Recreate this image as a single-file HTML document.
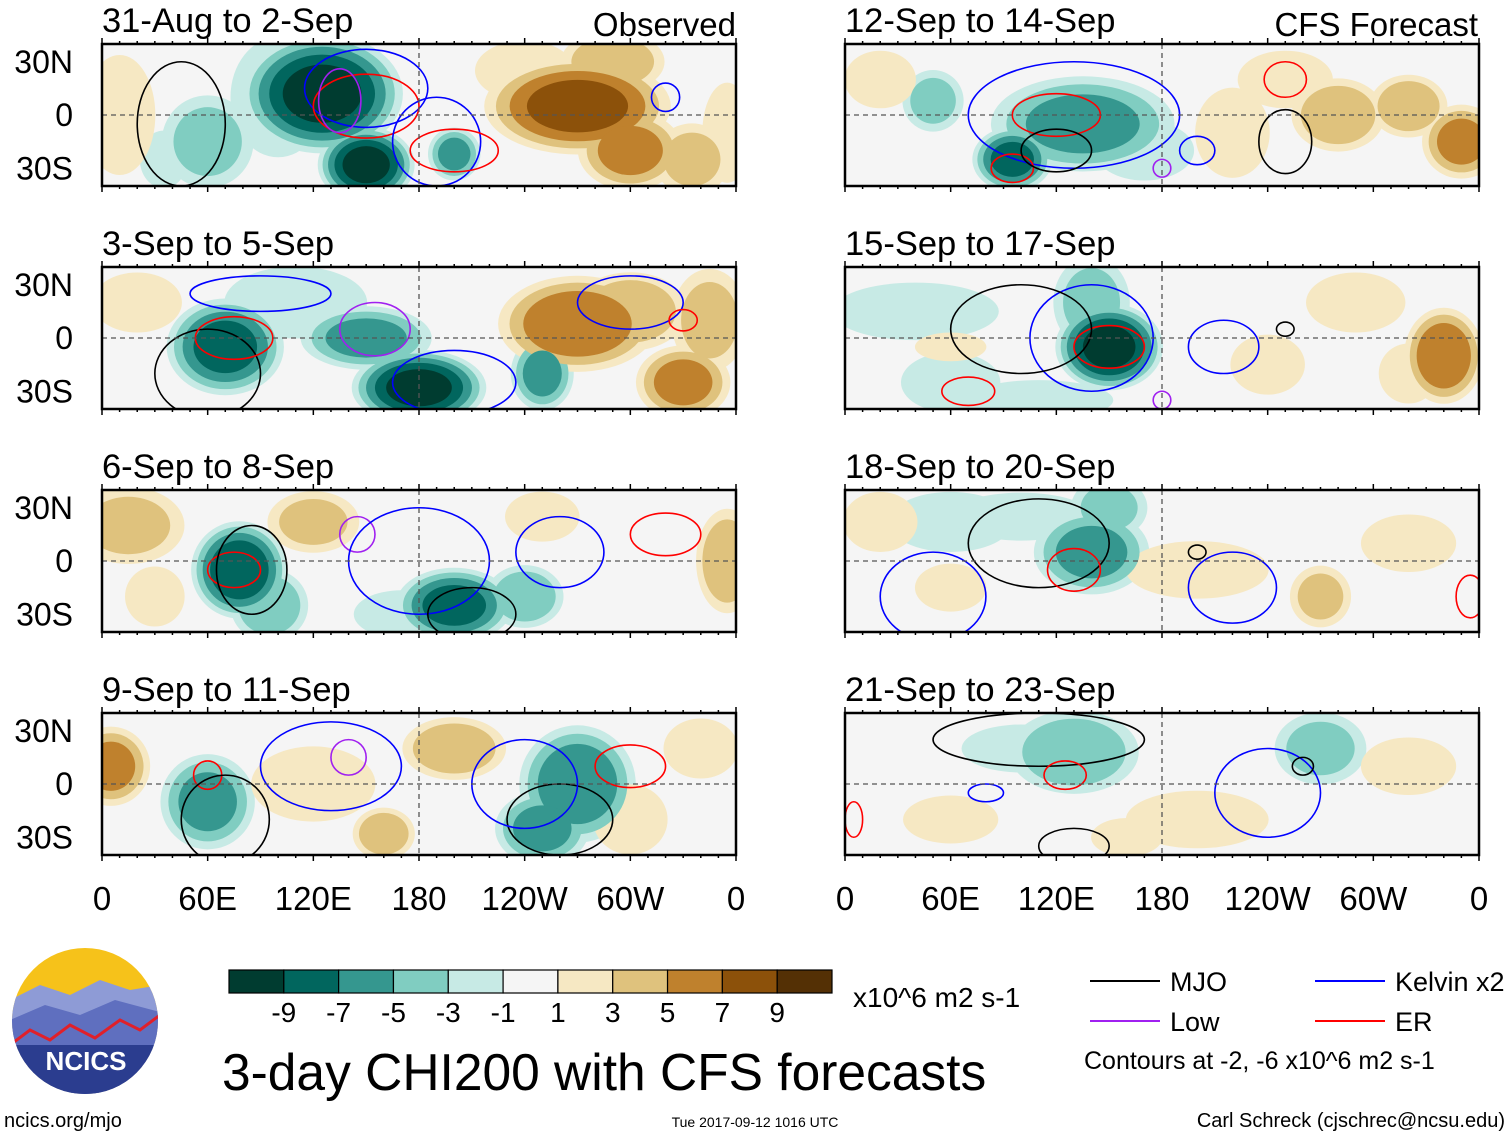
<!DOCTYPE html>
<html><head><meta charset="utf-8"><style>
html,body{margin:0;padding:0;background:#fff;}
svg{display:block;font-family:"Liberation Sans",sans-serif;}
</style></head><body>
<svg id="fig" width="1510" height="1137" viewBox="0 0 1510 1137" xmlns="http://www.w3.org/2000/svg">
<defs id="defs"></defs>
<g id="panels"></g>
<g id="static"></g>
</svg>
<script>
// colour scale (BrBG reversed), 11 bins
const binColors=["#003c30","#01665e","#35978f","#80cdc1","#c7eae5","#f5f5f5","#f6e8c3","#dfc27d","#bf812d","#8c510a","#543005"];
const binLabels=["-9","-7","-5","-3","-1","1","3","5","7","9"];
const panelTitles=["31-Aug to 2-Sep","3-Sep to 5-Sep","6-Sep to 8-Sep","9-Sep to 11-Sep","12-Sep to 14-Sep","15-Sep to 17-Sep","18-Sep to 20-Sep","21-Sep to 23-Sep"];
const latTicks=[30,0,-30];
const latLabels=["30N","0","30S"];
const lonTicks=[0,60,120,180,240,300,360];
const lonLabels=["0","60E","120E","180","120W","60W","0"];
// blobs: [lon(0-360), lat, value, radiusLonDeg, radiusLatDeg]
const blobs0=[[125,12,-10,30,22],[150,-28,-10,18,14],[200,-22,-6,10,10],[60,-15,-4,18,18],[35,-25,-2,10,12],[100,10,-2,20,25],[270,5,8,35,18],[300,-20,6,20,15],[335,-25,4,15,14],[240,25,3,20,12],[290,30,5,20,12],[10,0,2,15,25],[355,-10,3,10,20]];
const blobs1=[[70,-5,-8,22,18],[180,-28,-10,25,14],[150,0,-6,25,12],[250,-20,-6,12,14],[110,20,-2,30,15],[270,8,7,30,18],[300,15,5,22,15],[330,-25,6,18,14],[20,20,3,18,12],[345,10,4,15,20]];
const blobs2=[[78,-5,-9,18,18],[95,-25,-5,15,14],[200,-25,-8,22,14],[240,-20,-5,15,12],[15,20,4,22,15],[120,22,4,18,12],[355,0,5,12,20],[250,25,3,15,10],[170,-30,-2,20,10],[30,-20,3,12,12]];
const blobs3=[[60,-10,-6,18,18],[270,0,-7,22,22],[250,-25,-6,18,14],[5,10,6,15,15],[200,20,5,20,12],[160,-28,5,12,10],[300,-20,3,15,14],[120,0,3,25,15],[340,20,3,15,12]];
const blobs4=[[135,-5,-6,35,18],[95,-25,-8,15,12],[50,8,-4,12,12],[170,-20,-3,20,12],[280,0,5,18,14],[350,-15,6,15,14],[320,5,5,15,12],[220,-10,3,15,18],[250,20,2,20,12],[20,20,2,15,12]];
const blobs5=[[150,-5,-10,20,16],[140,20,-4,15,18],[60,-25,-3,20,12],[110,-35,-3,30,8],[40,15,-2,35,12],[340,-10,7,15,18],[240,-15,3,15,12],[290,20,3,20,12],[320,-20,3,12,12],[60,-5,2,15,6]];
const blobs6=[[140,5,-6,22,16],[150,30,-4,15,12],[60,22,-3,25,12],[100,25,-2,30,10],[270,-20,4,12,12],[20,22,3,15,12],[200,-5,2,30,12],[320,10,2,20,12],[60,-15,2,15,10]];
const blobs7=[[130,18,-5,25,16],[270,20,-4,18,14],[100,20,-2,25,10],[200,-20,2,30,12],[60,-20,2,20,10],[320,10,2,20,12],[160,-30,2,15,8]];
const allBlobs=[blobs0,blobs1,blobs2,blobs3,blobs4,blobs5,blobs6,blobs7];
// contours: [type, lon, lat, rLon, rLat]
const contours0=[[ "MJO",45,-5,25,35],["Kelvin",150,15,35,22],["ER",150,5,30,18],["Low",135,8,12,18],["Kelvin",190,-15,25,25],["ER",200,-20,25,12],["Kelvin",320,10,8,8]];
const contours1=[["MJO",60,-20,30,25],["ER",75,0,22,12],["Low",155,5,20,15],["Kelvin",200,-25,35,18],["Kelvin",300,20,30,15],["ER",330,10,8,6],["Kelvin",90,25,40,10]];
const contours2=[["ER",75,-5,15,10],["MJO",85,-5,20,25],["Low",145,15,10,10],["Kelvin",180,0,40,30],["MJO",210,-30,25,15],["ER",320,15,20,12],["Kelvin",260,5,25,20]];
const contours3=[["ER",60,5,8,8],["MJO",70,-20,25,25],["Kelvin",130,10,40,25],["ER",300,10,20,12],["MJO",260,-20,30,20],["Kelvin",240,0,30,25],["Low",140,15,10,10]];
const contours4=[["Kelvin",130,0,60,30],["ER",120,0,25,12],["ER",95,-30,12,8],["MJO",120,-20,20,12],["ER",250,20,12,10],["MJO",250,-15,15,18],["Kelvin",200,-20,10,8],["Low",180,-30,5,5]];
const contours5=[["Kelvin",140,0,35,30],["ER",150,-5,20,12],["MJO",100,5,40,25],["Kelvin",215,-5,20,15],["ER",70,-30,15,8],["MJO",250,5,5,4],["Low",180,-35,5,5]];
const contours6=[["MJO",110,10,40,25],["Kelvin",50,-20,30,25],["ER",130,-5,15,12],["Kelvin",220,-15,25,20],["MJO",200,5,5,4],["ER",355,-20,8,12]];
const contours7=[["MJO",110,25,60,15],["Kelvin",80,-5,10,5],["ER",125,5,12,8],["MJO",130,-35,20,10],["Kelvin",240,-5,30,25],["MJO",260,10,6,5],["ER",5,-20,5,10]];
const allContours=[contours0,contours1,contours2,contours3,contours4,contours5,contours6,contours7];
const lineColors={MJO:"#000000",Kelvin:"#0000ff",Low:"#a020f0",ER:"#ff0000"};

const NS="http://www.w3.org/2000/svg";
function mk(tag,attrs,parent){const e=document.createElementNS(NS,tag);for(const k in attrs)e.setAttribute(k,attrs[k]);if(parent)parent.appendChild(e);return e;}
const colX=[102,845],rowY=[44,267,490,713],PW=634,PH=142;
const defs=document.getElementById('defs'),panels=document.getElementById('panels');
function binIndex(v,k){return v<0?4-k:6+k;}
const thr=[1,3,5,7,9];
for(let p=0;p<8;p++){
  const col=p<4?0:1,row=p%4,x0=colX[col],y0=rowY[row];
  const xs=lon=>x0+lon/360*PW, ys=lat=>y0+(40-lat)/80*PH;
  const cp=mk('clipPath',{id:'cp'+p},defs);mk('rect',{x:x0,y:y0,width:PW,height:PH},cp);
  const g=mk('g',{'clip-path':'url(#cp'+p+')'},panels);
  
  
  mk('rect',{x:x0,y:y0,width:PW,height:PH,fill:'#f5f5f5'},g);
  const bl=allBlobs[p];
  for(let k=0;k<5;k++){
    for(const b of bl){
      const a=Math.abs(b[2]);if(a<=thr[k])continue;
      const f=Math.sqrt(1-thr[k]/(a+1.5))*1.6;
      const e=mk('ellipse',{cx:xs(b[0]),cy:ys(b[1]),rx:b[3]/360*PW*f,ry:b[4]/80*PH*f,fill:binColors[binIndex(b[2],k)]},g);
      
      
    }
  }
  for(const c of allContours[p]){
    const e=mk('ellipse',{cx:xs(c[1]),cy:ys(c[2]),rx:c[3]/360*PW,ry:c[4]/80*PH,fill:'none',stroke:lineColors[c[0]],'stroke-width':1.6},g);
    
    
  }
  mk('line',{x1:x0,x2:x0+PW,y1:ys(0),y2:ys(0),stroke:'#555','stroke-dasharray':'5,4','stroke-width':1.3},g);
  mk('line',{x1:xs(180),x2:xs(180),y1:y0,y2:y0+PH,stroke:'#555','stroke-dasharray':'5,4','stroke-width':1.3},g);
  const fr=mk('rect',{x:x0,y:y0,width:PW,height:PH,fill:'none',stroke:'#000','stroke-width':2.5},panels);
  
  
  for(let l=0;l<=360;l+=10){const len=l%60==0?6:3;mk('line',{x1:xs(l),x2:xs(l),y1:y0,y2:y0-len,stroke:'#000','stroke-width':1.5},panels);mk('line',{x1:xs(l),x2:xs(l),y1:y0+PH,y2:y0+PH+len,stroke:'#000','stroke-width':1.5},panels);}
  const t=mk('text',{x:x0,y:y0-12,'font-size':34.5,fill:'#000'},panels);t.textContent=panelTitles[p];
  
  
  if(col==0){latTicks.forEach((la,i)=>{const tt=mk('text',{x:73,y:ys(la)+11,'font-size':32,'text-anchor':'end'},panels);tt.textContent=latLabels[i];
    
    });}
  if(row==3){lonTicks.forEach((lo,i)=>{const tt=mk('text',{x:xs(lo),y:910,'font-size':33,'text-anchor':'middle'},panels);tt.textContent=lonLabels[i];
    
    });}
}
const st=document.getElementById('static');
function txt(x,y,s,str,anchor,name){const t=mk('text',{x:x,y:y,'font-size':s,'text-anchor':anchor||'start'},st);t.textContent=str;
  
  return t;}
txt(736,36,33,"Observed","end","observed-label");
txt(1478,36,33,"CFS Forecast","end","forecast-label");
// colorbar
const cbX=229,cbW=603,cbY=970,cbH=23,bw=cbW/11;
binColors.forEach((c,i)=>{const r=mk('rect',{x:cbX+i*bw,y:cbY,width:bw,height:cbH,fill:c,stroke:'#000','stroke-width':1.2},st);
  
  });
binLabels.forEach((l,i)=>txt(cbX+(i+1)*bw,1022,28,l,"middle","colorbar-label"));
txt(853,1007,28,"x10^6 m2 s-1","start","units-label");
txt(222,1090,51.5,"3-day CHI200 with CFS forecasts","start","figure-title");
// legend
[["MJO",1090,981],["Kelvin x2",1315,981],["Low",1090,1021],["ER",1315,1021]].forEach(([n,x,y])=>{
  const ln=mk('line',{x1:x,x2:x+70,y1:y,y2:y,stroke:lineColors[n.split(' ')[0]],'stroke-width':2},st);
  
  
  txt(x+80,y+10,27,n,"start","legend-entry");
});
txt(1084,1069,25,"Contours at -2, -6 x10^6 m2 s-1","start","contour-note");
txt(4,1127,20,"ncics.org/mjo","start","source-url");
txt(755,1127,14,"Tue 2017-09-12 1016 UTC","middle","timestamp");
txt(1505,1127,20,"Carl Schreck (cjschrec@ncsu.edu)","end","author");
// logo
const lg=mk('g',{},st);


mk('clipPath',{id:'lc'},defs).appendChild(mk('circle',{cx:85,cy:1021,r:73}));
const li=mk('g',{'clip-path':'url(#lc)'},lg);
mk('rect',{x:10,y:945,width:150,height:160,fill:'#f6c21a'},li);
mk('path',{d:'M10 1000 L40 985 L70 995 L100 980 L130 990 L160 985 L160 1100 L10 1100Z',fill:'#8e9bd6'},li);
mk('path',{d:'M10 1020 L45 1005 L80 1015 L115 1000 L160 1012 L160 1100 L10 1100Z',fill:'#5f6fbf'},li);
mk('path',{d:'M10 1045 L30 1030 L50 1040 L70 1025 L95 1038 L120 1020 L140 1030 L160 1015',fill:'none',stroke:'#e0202a','stroke-width':3},li);
mk('rect',{x:10,y:1045,width:150,height:60,fill:'#2b3d8f'},li);
const lt=mk('text',{x:86,y:1070,'font-size':26,'font-weight':'bold','text-anchor':'middle',fill:'#fff'},lg);lt.textContent="NCICS";


</script>
</body></html>
